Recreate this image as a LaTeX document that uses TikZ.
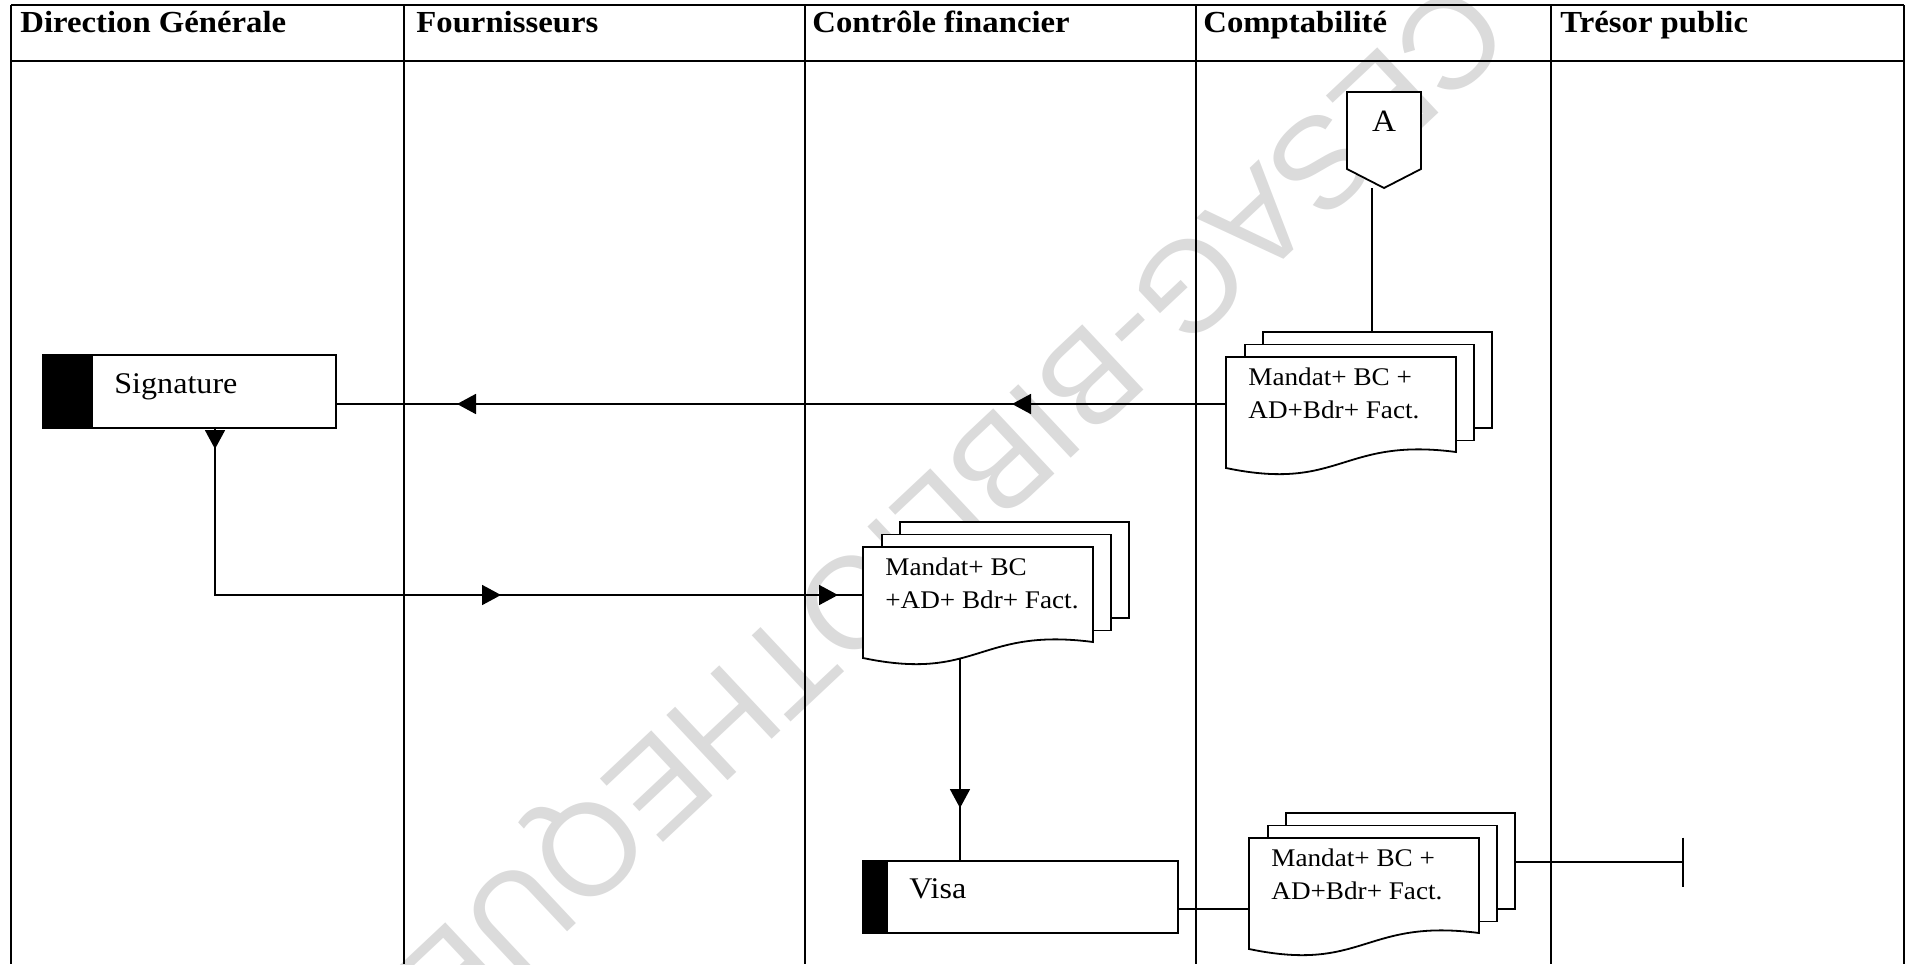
\documentclass[tikz,border=0pt]{standalone}
\usepackage{fontspec}
\setmainfont{Liberation Serif}[FakeStretch=1.07]
\newfontfamily\wmfont{Liberation Sans}
\usetikzlibrary{arrows.meta,calc,decorations.markings}
\pgfdeclarelayer{back}
\pgfdeclarelayer{mid}
\pgfsetlayers{back,mid,main}

% stack of three document sheets behind the front node #1
\newcommand\docstack[1]{%
  \coordinate (#1-m) at ($(#1.north west)+(19,-12.5)$);
  \coordinate (#1-b) at ($(#1.north west)+(37,-25)$);
  \begin{pgfonlayer}{mid}
    \draw[sheet] (#1-b) rectangle ++(229,96);
    \draw[sheet] (#1-m) rectangle ++(229,96);
    \draw[sheet] (#1.north west) -- (#1.north east) -- ($(#1.north west)+(230,95)$)
      .. controls ($(#1.north west)+(115,80)$) and ($(#1.north west)+(115,135)$)
      .. ($(#1.north west)+(0,111)$) -- cycle;
  \end{pgfonlayer}}

\begin{document}
\begin{tikzpicture}[x=0.5pt, y=-0.5pt,
  >={Triangle[length=9.5pt,width=10pt]},
  rule/.style={line width=0.9pt},
  flow/.style={line width=0.9pt},
  tips/.style={postaction={decorate}, decoration={markings, #1}},
  sheet/.style={draw, fill=white, line width=0.9pt},
  proc/.style={draw, fill=white, line width=0.9pt, inner sep=0pt, outer sep=0pt, anchor=north west},
  docarea/.style={inner sep=0pt, outer sep=0pt, minimum width=115pt, minimum height=55.5pt, anchor=north west},
  doctext/.style={inner sep=0pt, align=left, anchor=north west, font=\fontsize{12.7}{16.5}\selectfont},
  proctext/.style={inner sep=0pt, anchor=base west, font=\fontsize{15}{18}\selectfont},
  headtext/.style={inner sep=0pt, anchor=base west, font=\bfseries\fontsize{15.3}{18}\selectfont},
  watermark/.style={text=black!14, rotate=223.2, inner sep=0pt, font=\wmfont\fontsize{65}{65}\selectfont},
]
\useasboundingbox (0,0) rectangle (1910,964);

% lane headers
\node[headtext] (h1) at (20,32) {Direction Générale};
\node[headtext] (h2) at (416,32) {Fournisseurs};
\node[headtext] (h3) at (812,32) {Contrôle financier};
\node[headtext] (h4) at (1203,32) {Comptabilité};
\node[headtext] (h5) at (1560,32) {Trésor public};

% processing steps
\node[proc, minimum width=146.5pt, minimum height=36.5pt] (sig) at (43,355) {};
\fill (sig.north west) rectangle ($(sig.south west)+(50,0)$);
\node[proctext] (sigt) at ($(sig.west)+(71,1.5)$) {Signature};

\node[proc, minimum width=157.5pt, minimum height=36pt] (vis) at (863,861) {};
\fill (vis.north west) rectangle ($(vis.south west)+(25,0)$);
\node[proctext] (vist) at ($(vis.west)+(46,1)$) {Visa};

% document stacks
\node[docarea] (d1) at (1226,357) {};
\docstack{d1}
\node[doctext] (d1t) at ($(d1.north west)+(22,10)$) {Mandat+ BC +\\AD+Bdr+ Fact.};

\node[docarea] (d2) at (863,547) {};
\docstack{d2}
\node[doctext] (d2t) at ($(d2.north west)+(22,10)$) {Mandat+ BC\\+AD+ Bdr+ Fact.};

\node[docarea] (d3) at (1249,838) {};
\docstack{d3}
\node[doctext] (d3t) at ($(d3.north west)+(22,10)$) {Mandat+ BC +\\AD+Bdr+ Fact.};

% off-page connector
\node[inner sep=0pt, anchor=base, font=\fontsize{15.5}{18}\selectfont] (A) at (1384,131) {A};
\begin{pgfonlayer}{mid}
  \draw[sheet] ($(A.base)+(-37,-39)$) -- ($(A.base)+(37,-39)$) -- ($(A.base)+(37,38)$)
    -- ($(A.base)+(0,57)$) -- ($(A.base)+(-37,38)$) -- cycle;
\end{pgfonlayer}

\begin{pgfonlayer}{back}
  \node[watermark] (wm) at (945,500) {CESAG-BIBLIOTHEQUE};

  % swimlane grid
  \draw[rule] (11,5) -- (1904,5);
  \draw[rule] (11,61) -- (1904,61);
  \foreach \lx in {11,404,805,1196,1551,1904}
    \draw[rule] (\lx,5) -- (\lx,964);

  % flows
  \coordinate (Aout) at ($(A.base)+(-12,57)$);
  \draw[flow] (Aout) -- (Aout |- d1-b);

  \coordinate (d1in) at ($(d1.north west)+(0,47)$);
  \draw[flow, tips={mark=at position 107pt with {\arrow{>}}, mark=at position 384.5pt with {\arrow{>}}}]
    (d1in) -- (sig.east |- d1in);

  \coordinate (sigout) at ($(sig.south)+(25.5,0)$);
  \coordinate (d2in) at ($(d2.north west)+(0,48)$);
  \draw[flow, tips={mark=at position 10.5pt with {\arrow{>}}, mark=at position 226.5pt with {\arrow{>}}, mark=at position 395pt with {\arrow{>}}}]
    (sigout) |- (d2in);

  \coordinate (d2out) at ($(d2.south west)+(97,-4)$);
  \draw[flow, tips={mark=at position 77pt with {\arrow{>}}}]
    (d2out) -- (d2out |- vis.north);

  \coordinate (visout) at ($(vis.east)+(0,12)$);
  \draw[flow] (visout) -- (d3.west |- visout);

  \coordinate (d3out) at ($(d3-b)+(229,49)$);
  \coordinate (tre) at (1684,862);
  \draw[flow, -{Bar[width=24.5pt]}] (d3out) -- (tre);
\end{pgfonlayer}
\end{tikzpicture}
\end{document}
